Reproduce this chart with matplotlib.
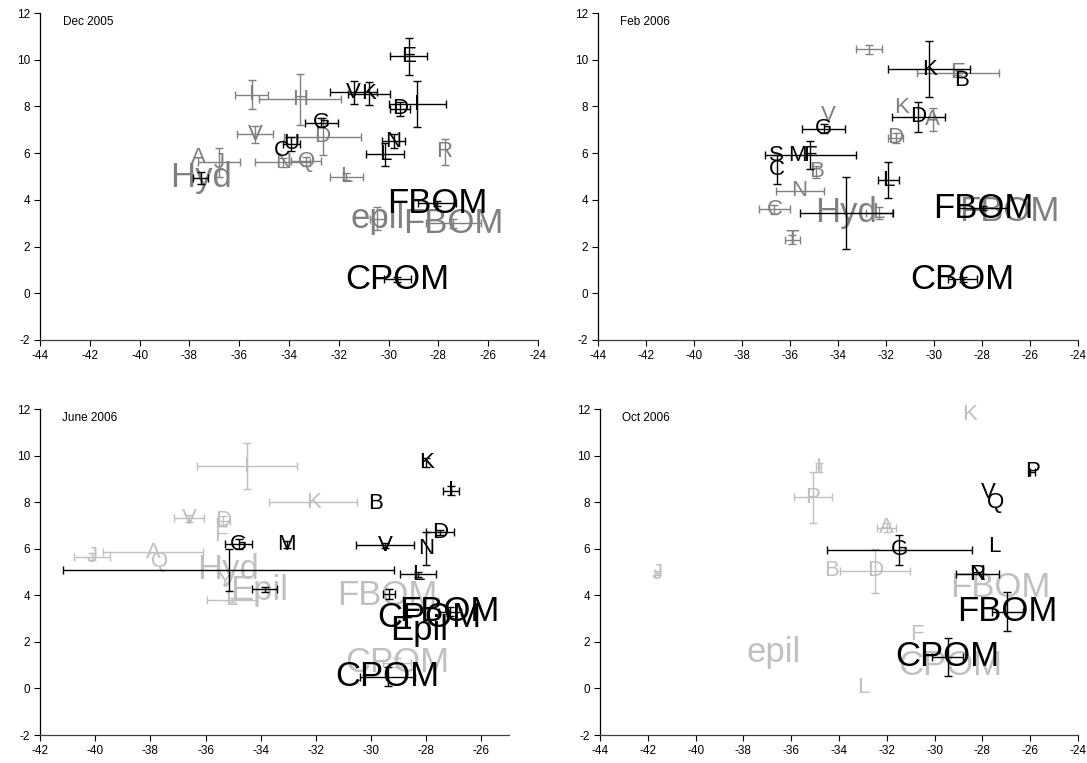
import numpy as np
import matplotlib
matplotlib.use("Agg")
import matplotlib.pyplot as plt

plt.rcParams["font.family"] = ["Liberation Sans", "DejaVu Sans"]
plt.rcParams["axes.unicode_minus"] = False

# ---------------- Dec 2005 ----------------
dec_dark_labels = ["E", "V", "K", "D", "I", "G", "U", "C", "N", "L", "", "FBOM", "CPOM"]
dec_dark_x = [-29.2, -31.4, -30.8, -29.55, -28.85, -32.7, -33.9, -34.3, -29.8, -30.15, -37.55, -28.05, -29.65]
dec_dark_y = [10.15, 8.6, 8.55, 7.9, 8.1, 7.3, 6.4, 6.1, 6.5, 5.95, 4.95, 3.85, 0.6]
dec_dark_xerr = [0.75, 0.95, 0.85, 0.4, 1.15, 0.65, 0.35, 0, 0.45, 0.75, 0.3, 0.75, 0.55]
dec_dark_yerr = [0.8, 0.5, 0.5, 0.3, 1.0, 0.2, 0.3, 0, 0.3, 0.5, 0.25, 0.1, 0.1]

dec_grey_labels = ["I", "H", "V", "D", "N", "Q", "A", "J", "Hyd", "L", "R", "epil", "FBOM"]
dec_grey_x = [-35.5, -33.55, -35.35, -32.65, -34.25, -33.3, -37.65, -36.8, -37.55, -31.7, -27.75, -30.45, -27.4]
dec_grey_y = [8.5, 8.3, 6.8, 6.7, 5.6, 5.65, 5.8, 5.6, 4.95, 5.0, 6.05, 3.2, 3.0]
dec_grey_xerr = [0.67, 1.65, 0.72, 1.55, 1.1, 0.6, 0, 0.85, 0, 0.67, 0, 0.3, 1.1]
dec_grey_yerr = [0.63, 1.1, 0.35, 0.8, 0.2, 0.2, 0, 0.6, 0, 0.15, 0.55, 0.5, 0.2]

# ---------------- Feb 2006 ----------------
feb_dark_labels = ["K", "B", "D", "G", "S", "M", "F", "C", "L", "", "FBOM", "CBOM"]
feb_dark_x = [-30.2, -28.85, -30.65, -34.6, -36.55, -35.7, -35.15, -36.55, -31.9, -33.65, -27.95, -28.8]
feb_dark_y = [9.6, 9.1, 7.55, 7.05, 5.9, 5.9, 5.9, 5.3, 4.85, 3.45, 3.65, 0.6]
feb_dark_xerr = [1.7, 0, 1.1, 0.9, 0, 0, 1.9, 0, 0.45, 1.95, 1.0, 0.6]
feb_dark_yerr = [1.2, 0, 0.65, 0.2, 0, 0, 0.6, 0.6, 0.75, 1.55, 0.1, 0.1]

feb_grey_labels = ["", "E", "K", "A", "V", "D", "B", "N", "C", "Hyd", "L", "T", "FBOM"]
feb_grey_x = [-32.7, -29.0, -31.35, -30.05, -34.4, -31.6, -34.9, -35.6, -36.65, -33.65, -32.3, -35.9, -26.85]
feb_grey_y = [10.45, 9.45, 7.95, 7.45, 7.6, 6.65, 5.2, 4.4, 3.6, 3.45, 3.45, 2.3, 3.5]
feb_grey_xerr = [0.55, 1.7, 0, 0, 0, 0.3, 0, 1.0, 0.65, 0, 0.55, 0.3, 0]
feb_grey_yerr = [0.2, 0.1, 0, 0.5, 0, 0.2, 0.25, 0, 0.2, 0, 0.25, 0.2, 0]

# ---------------- June 2006 ----------------
jun_dark_labels = ["K", "I", "B", "D", "V", "N", "L", "G", "M", "", "", "", "FBOM", "CPOM", "Epil", "CPOM"]
jun_dark_x = [-28.0, -27.1, -29.85, -27.5, -29.5, -28.0, -28.3, -34.8, -33.05, -35.16, -33.85, -29.35, -27.15, -27.9, -28.25, -29.4]
jun_dark_y = [9.7, 8.5, 7.95, 6.7, 6.15, 6.0, 4.9, 6.2, 6.2, 5.08, 4.25, 4.05, 3.3, 3.05, 2.5, 0.5]
jun_dark_xerr = [0, 0.3, 0, 0.5, 1.05, 0, 0.65, 0.5, 0, 6.0, 0.45, 0.2, 0.4, 0, 0, 1.0]
jun_dark_yerr = [0.2, 0.2, 0, 0.1, 0.1, 0.7, 0.1, 0.2, 0.15, 0.9, 0.1, 0.2, 0.2, 0, 0, 0.4]

jun_grey_labels = ["I", "K", "V", "D", "F", "J", "A", "Q", "Hyd", "Y", "Epil", "L", "FBOM", "CPOM"]
jun_grey_x = [-34.5, -32.1, -36.6, -35.35, -35.45, -40.1, -37.9, -37.65, -35.2, -35.3, -34.05, -35.05, -29.4, -29.05]
jun_grey_y = [9.55, 8.0, 7.3, 7.2, 6.55, 5.65, 5.85, 5.45, 5.1, 4.6, 4.2, 3.8, 4.0, 1.1]
jun_grey_xerr = [1.8, 1.6, 0.55, 0.25, 0, 0.65, 1.8, 0, 0, 0, 0, 0.9, 0, 0.5]
jun_grey_yerr = [1.0, 0, 0.15, 0.2, 0, 0.15, 0, 0, 0, 0, 0, 0.1, 0, 0.2]

# ---------------- Oct 2006 ----------------
oct_dark_labels = ["P", "V", "Q", "G", "L", "N", "R", "FBOM", "CPOM"]
oct_dark_x = [-25.9, -27.75, -27.45, -31.47, -27.5, -28.2, -28.2, -26.95, -29.45]
oct_dark_y = [9.3, 8.4, 8.0, 5.95, 6.1, 4.9, 4.9, 3.3, 1.35]
oct_dark_xerr = [0.1, 0, 0, 3.05, 0, 0.9, 0, 0.65, 0.65]
oct_dark_yerr = [0, 0, 0, 0.65, 0, 0, 0, 0.85, 0.8]

oct_grey_labels = ["K", "I", "P", "A", "J", "B", "D", "FBOM", "epil", "F", "CPOM", "L"]
oct_grey_x = [-28.55, -34.85, -35.1, -32.0, -41.6, -34.3, -32.5, -27.25, -36.75, -30.75, -29.35, -33.0]
oct_grey_y = [11.75, 9.5, 8.2, 6.9, 4.95, 5.05, 5.05, 4.35, 1.55, 2.3, 1.0, 0.05]
oct_grey_xerr = [0, 0.1, 0.8, 0.4, 0.1, 0, 1.45, 0, 0, 0, 0, 0]
oct_grey_yerr = [0, 0.2, 1.1, 0.2, 0.1, 0, 0.95, 0, 0, 0, 0, 0]

panel_titles = ["Dec 2005", "Feb 2006", "June 2006", "Oct 2006"]
y_ticks = [-2, 0, 2, 4, 6, 8, 10, 12]

DARK = "#000000"
MID_GREY = "#808080"
LIGHT_GREY = "#c0c0c0"


def draw_group(ax, labels, xs, ys, xerr, yerr, color, z):
    xs = np.asarray(xs, float)
    ys = np.asarray(ys, float)
    xerr = np.asarray(xerr, float)
    yerr = np.asarray(yerr, float)
    mx = xerr > 0
    my = yerr > 0
    kw = dict(fmt="none", ecolor=color, elinewidth=1.0, capsize=3, capthick=1.0, zorder=z)
    if mx.any():
        ax.errorbar(xs[mx], ys[mx], xerr=xerr[mx], **kw)
    if my.any():
        ax.errorbar(xs[my], ys[my], yerr=yerr[my], **kw)
    for lab, x, y in zip(labels, xs, ys):
        if not lab:
            continue
        size = 25 if len(lab) > 1 else 16
        ax.text(x, y, lab, ha="center", va="center", color=color,
                fontsize=size, zorder=z + 0.5)


def style_axes(ax, xlim, xticks, title):
    ax.set_xlim(*xlim)
    ax.set_ylim(-2, 12)
    ax.set_xticks(xticks)
    ax.set_yticks(y_ticks)
    ax.set_xticklabels([str(t) for t in xticks])
    ax.set_yticklabels([str(t) for t in y_ticks])
    for side in ("top", "right"):
        ax.spines[side].set_visible(False)
    ax.spines["left"].set_color("#000000")
    ax.spines["bottom"].set_color("#404040")
    ax.spines["left"].set_linewidth(0.9)
    ax.spines["bottom"].set_linewidth(0.9)
    ax.tick_params(direction="out", length=4, width=0.8, labelsize=8.5, pad=3)
    ax.text(0.046, 0.972, title, transform=ax.transAxes, fontsize=8.5,
            ha="left", va="center")


fig = plt.figure(figsize=(10.87, 7.63), dpi=100)
W, H = 1087.0, 763.0


def add_axes(left, right, top, bottom):
    return fig.add_axes([left / W, 1 - bottom / H, (right - left) / W, (bottom - top) / H])


ax1 = add_axes(40, 538, 13, 340)
ax2 = add_axes(598, 1078, 13, 340)
ax3 = add_axes(40, 509, 409, 735)
ax4 = add_axes(600, 1078, 409, 735)

ticks_44 = list(range(-44, -23, 2))
ticks_42 = list(range(-42, -25, 2))

style_axes(ax1, (-44, -24), ticks_44, panel_titles[0])
draw_group(ax1, dec_grey_labels, dec_grey_x, dec_grey_y, dec_grey_xerr, dec_grey_yerr, MID_GREY, 2)
draw_group(ax1, dec_dark_labels, dec_dark_x, dec_dark_y, dec_dark_xerr, dec_dark_yerr, DARK, 4)

style_axes(ax2, (-44, -24), ticks_44, panel_titles[1])
draw_group(ax2, feb_grey_labels, feb_grey_x, feb_grey_y, feb_grey_xerr, feb_grey_yerr, MID_GREY, 2)
draw_group(ax2, feb_dark_labels, feb_dark_x, feb_dark_y, feb_dark_xerr, feb_dark_yerr, DARK, 4)

style_axes(ax3, (-42, -25), ticks_42, panel_titles[2])
draw_group(ax3, jun_grey_labels, jun_grey_x, jun_grey_y, jun_grey_xerr, jun_grey_yerr, LIGHT_GREY, 2)
draw_group(ax3, jun_dark_labels, jun_dark_x, jun_dark_y, jun_dark_xerr, jun_dark_yerr, DARK, 4)

style_axes(ax4, (-44, -24), ticks_44, panel_titles[3])
draw_group(ax4, oct_grey_labels, oct_grey_x, oct_grey_y, oct_grey_xerr, oct_grey_yerr, LIGHT_GREY, 2)
draw_group(ax4, oct_dark_labels, oct_dark_x, oct_dark_y, oct_dark_xerr, oct_dark_yerr, DARK, 4)

fig.savefig("out.png", dpi=100)
